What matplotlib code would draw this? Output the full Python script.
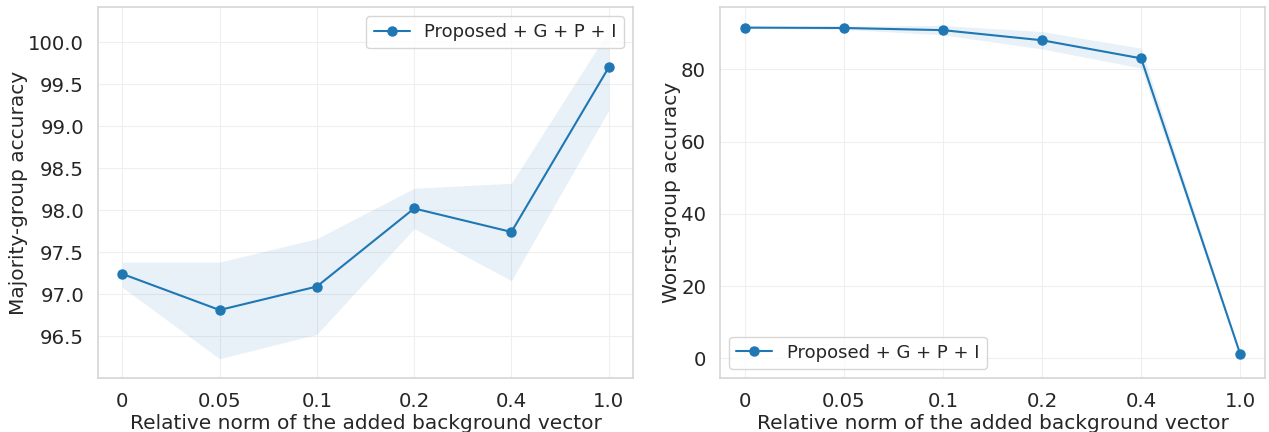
import numpy as np
import seaborn as sns
from matplotlib import pyplot as plt

norms = ["0", "0.05", "0.1", "0.2", "0.4", "1.0"]

maj_mean = [97.24, 96.81, 97.09, 98.02, 97.74, 99.70]
maj_low = [97.08, 96.23, 96.52, 97.78, 97.16, 99.19]
maj_high = [97.38, 97.38, 97.66, 98.26, 98.32, 100.14]

worst_mean = [91.5, 91.4, 90.8, 88.0, 83.0, 1.2]
worst_low = [91.3, 91.0, 89.5, 85.6, 80.3, 0.8]
worst_high = [91.7, 91.9, 92.1, 90.4, 85.8, 1.6]

label = "Proposed + G + P + I"
xlabel = "Relative norm of the added background vector"

sns.set_theme(style="whitegrid")
plt.rcParams['font.family'] = ['DejaVu Sans']

fig = plt.figure(figsize=(12.69, 4.32), dpi=100)
ax1 = fig.add_axes([98 / 1269, 1 - 378 / 432, 535 / 1269, 371 / 432])
ax2 = fig.add_axes([720 / 1269, 1 - 378 / 432, 545 / 1269, 371 / 432])

x = np.arange(len(norms))
color = "#1f77b4"


def draw(ax, mean, low, high, ylab, loc):
    ax.fill_between(x, low, high, color=color, alpha=0.1, linewidth=0)
    ax.plot(x, mean, marker="o", color=color, markersize=6.5, linewidth=1.5, label=label)
    ax.set_xticks(x)
    ax.set_xticklabels(norms)
    ax.set_xlabel(xlabel, fontsize=14.5, labelpad=2)
    ax.set_ylabel(ylab, fontsize=14.5, labelpad=0)
    ax.tick_params(labelsize=14.2, pad=4)
    ax.grid(True, color="#efefef", linewidth=0.8)
    for s in ax.spines.values():
        s.set_color("#d5d5d5")
        s.set_linewidth(1.2)
    ax.legend(loc=loc, fontsize=13, frameon=True)


draw(ax1, maj_mean, maj_low, maj_high, "Majority-group accuracy", "upper right")
ax1.set_ylim(96.0, 100.42)
ax1.set_yticks([96.5, 97.0, 97.5, 98.0, 98.5, 99.0, 99.5, 100.0])

draw(ax2, worst_mean, worst_low, worst_high, "Worst-group accuracy", "lower left")
ax2.set_ylim(-5.4, 97.2)
ax2.set_yticks([0, 20, 40, 60, 80])

plt.savefig("out.png", dpi=100)
